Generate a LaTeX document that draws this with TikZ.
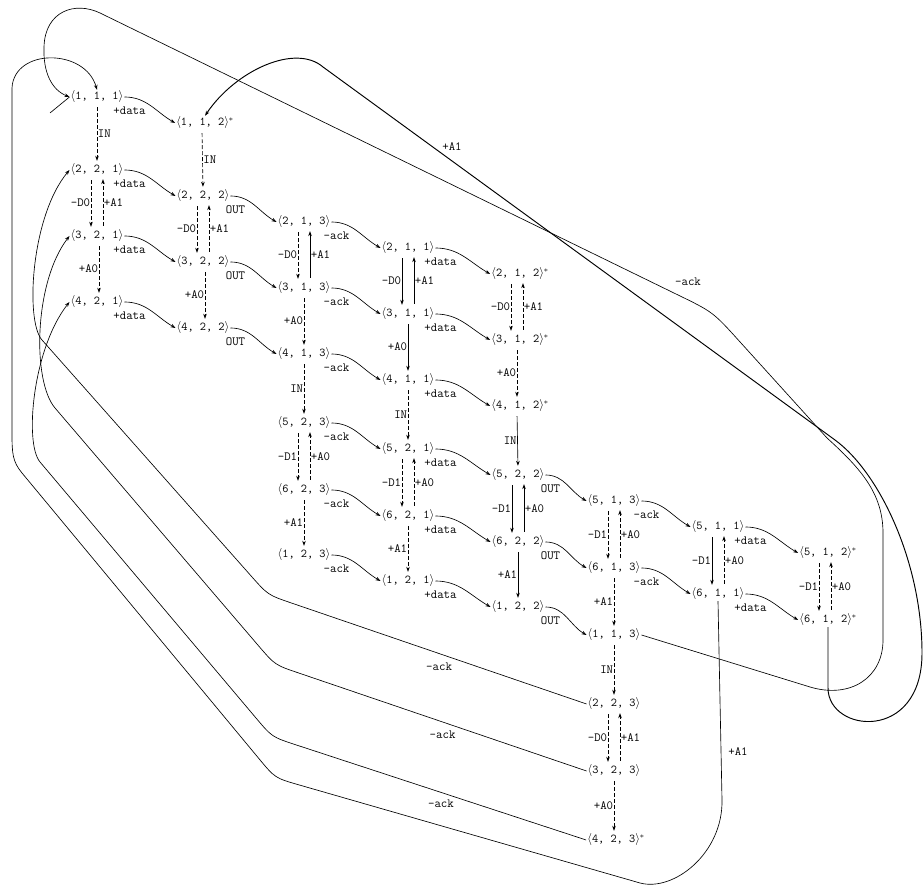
\documentclass[tikz,border=0pt]{standalone}
\usepackage{tikz}
\usetikzlibrary{arrows.meta}
\newcommand{\tup}[1]{$\langle$#1$\rangle$}

\begin{document}
\begin{tikzpicture}[x=1pt,y=1pt,>={Stealth[length=5pt,width=3.6pt]},
  st/.style={inner sep=1pt,font=\fontsize{12}{14}\selectfont\ttfamily},
  lbl/.style={inner sep=0.5pt,font=\fontsize{12.5}{14}\selectfont\ttfamily},
  hlbl/.style={lbl,at start,anchor=north,xshift=5pt,yshift=-9pt},
  hop/.style={->,line width=0.65pt},
  vmove/.style={->,line width=0.65pt,shorten <=3pt,shorten >=2pt},
  faint/.style={dash pattern=on 4pt off 2pt},
  loopline/.style={line width=0.65pt},
  heavy/.style={line width=0.95pt}]
  \useasboundingbox (0,0) rectangle (923,893);

  % --- states, one row of the staircase at a time ---
  \node[st] (n111) at (97,796) {\tup{1, 1, 1}};
  \node[st] (n112) at (205,770) {\tup{1, 1, 2}$^*$};

  \node[st] (n221) at (97,723) {\tup{2, 2, 1}};
  \node[st] (n222) at (203,697) {\tup{2, 2, 2}};
  \node[st] (n213) at (304,671) {\tup{2, 1, 3}};
  \node[st] (n211) at (408,645) {\tup{2, 1, 1}};
  \node[st] (n212) at (520,619) {\tup{2, 1, 2}$^*$};

  \node[st] (n321) at (97,657) {\tup{3, 2, 1}};
  \node[st] (n322) at (203,631) {\tup{3, 2, 2}};
  \node[st] (n313) at (304,605) {\tup{3, 1, 3}};
  \node[st] (n311) at (408,579) {\tup{3, 1, 1}};
  \node[st] (n312) at (520,553) {\tup{3, 1, 2}$^*$};

  \node[st] (n421) at (97,591) {\tup{4, 2, 1}};
  \node[st] (n422) at (203,565) {\tup{4, 2, 2}};
  \node[st] (n413) at (304,539) {\tup{4, 1, 3}};
  \node[st] (n411) at (408,513) {\tup{4, 1, 1}};
  \node[st] (n412) at (520,487) {\tup{4, 1, 2}$^*$};

  \node[st] (n523) at (304,470) {\tup{5, 2, 3}};
  \node[st] (n521) at (408,444) {\tup{5, 2, 1}};
  \node[st] (n522) at (518,418) {\tup{5, 2, 2}};
  \node[st] (n513) at (614,392) {\tup{5, 1, 3}};
  \node[st] (n511) at (718,366) {\tup{5, 1, 1}};
  \node[st] (n512) at (828,340) {\tup{5, 1, 2}$^*$};

  \node[st] (n623) at (304,403) {\tup{6, 2, 3}};
  \node[st] (n621) at (408,377) {\tup{6, 2, 1}};
  \node[st] (n622) at (518,351) {\tup{6, 2, 2}};
  \node[st] (n613) at (614,325) {\tup{6, 1, 3}};
  \node[st] (n611) at (718,299) {\tup{6, 1, 1}};
  \node[st] (n612) at (828,273) {\tup{6, 1, 2}$^*$};

  \node[st] (n123) at (304,338) {\tup{1, 2, 3}};
  \node[st] (n121) at (408,312) {\tup{1, 2, 1}};
  \node[st] (n122) at (518,286) {\tup{1, 2, 2}};
  \node[st] (n113) at (614,258) {\tup{1, 1, 3}};

  \node[st] (n223) at (614,189) {\tup{2, 2, 3}};
  \node[st] (n323) at (614,122) {\tup{3, 2, 3}};
  \node[st] (n423) at (616,53) {\tup{4, 2, 3}$^*$};

  % --- moves along a row ---
  \draw[hop] (n111.east) to[out=0,in=150] node[hlbl] {+data} (n112.west);

  \draw[hop] (n221.east) to[out=0,in=150] node[hlbl] {+data} (n222.west);
  \draw[hop] (n222.east) to[out=0,in=150] node[hlbl] {OUT} (n213.west);
  \draw[hop] (n213.east) to[out=0,in=150] node[hlbl] {-ack} (n211.west);
  \draw[hop] (n211.east) to[out=0,in=150] node[hlbl] {+data} (n212.west);

  \draw[hop] (n321.east) to[out=0,in=150] node[hlbl] {+data} (n322.west);
  \draw[hop] (n322.east) to[out=0,in=150] node[hlbl] {OUT} (n313.west);
  \draw[hop] (n313.east) to[out=0,in=150] node[hlbl] {-ack} (n311.west);
  \draw[hop] (n311.east) to[out=0,in=150] node[hlbl] {+data} (n312.west);

  \draw[hop] (n421.east) to[out=0,in=150] node[hlbl] {+data} (n422.west);
  \draw[hop] (n422.east) to[out=0,in=150] node[hlbl] {OUT} (n413.west);
  \draw[hop] (n413.east) to[out=0,in=150] node[hlbl] {-ack} (n411.west);
  \draw[hop] (n411.east) to[out=0,in=150] node[hlbl] {+data} (n412.west);

  \draw[hop] (n523.east) to[out=0,in=150] node[hlbl] {-ack} (n521.west);
  \draw[hop] (n521.east) to[out=0,in=150] node[hlbl] {+data} (n522.west);
  \draw[hop] (n522.east) to[out=0,in=150] node[hlbl] {OUT} (n513.west);
  \draw[hop] (n513.east) to[out=0,in=150] node[hlbl] {-ack} (n511.west);
  \draw[hop] (n511.east) to[out=0,in=150] node[hlbl] {+data} (n512.west);

  \draw[hop] (n623.east) to[out=0,in=150] node[hlbl] {-ack} (n621.west);
  \draw[hop] (n621.east) to[out=0,in=150] node[hlbl] {+data} (n622.west);
  \draw[hop] (n622.east) to[out=0,in=150] node[hlbl] {OUT} (n613.west);
  \draw[hop] (n613.east) to[out=0,in=150] node[hlbl] {-ack} (n611.west);
  \draw[hop] (n611.east) to[out=0,in=150] node[hlbl] {+data} (n612.west);

  \draw[hop] (n123.east) to[out=0,in=150] node[hlbl] {-ack} (n121.west);
  \draw[hop] (n121.east) to[out=0,in=150] node[hlbl] {+data} (n122.west);
  \draw[hop] (n122.east) to[out=0,in=150] node[hlbl] {OUT} (n113.west);

  % --- moves down a column ---
  % column 1
  \draw[vmove,faint] (n111) -- node[lbl,right] {IN} (n221);
  \draw[vmove,faint] ([xshift=-6pt]n221.south) -- node[lbl,left] {-D0} ([xshift=-6pt]n321.north);
  \draw[vmove,faint] ([xshift=6pt]n321.north) -- node[lbl,right] {+A1} ([xshift=6pt]n221.south);
  \draw[vmove,faint] ([xshift=2pt]n321.south) -- node[lbl,left] {+A0} ([xshift=2pt]n421.north);
  % column 2
  \draw[vmove,faint] ([xshift=-3pt]n112.south) -- node[lbl,right] {IN} (n222.north);
  \draw[vmove,faint] ([xshift=-6pt]n222.south) -- node[lbl,left] {-D0} ([xshift=-6pt]n322.north);
  \draw[vmove,faint] ([xshift=6pt]n322.north) -- node[lbl,right] {+A1} ([xshift=6pt]n222.south);
  \draw[vmove,faint] ([xshift=2pt]n322.south) -- node[lbl,left] {+A0} ([xshift=2pt]n422.north);
  % column 3
  \draw[vmove,faint] ([xshift=-6pt]n213.south) -- node[lbl,left] {-D0} ([xshift=-6pt]n313.north);
  \draw[vmove] ([xshift=6pt]n313.north) -- node[lbl,right] {+A1} ([xshift=6pt]n213.south);
  \draw[vmove,faint] (n313) -- node[lbl,left] {+A0} (n413);
  \draw[vmove,faint] (n413) -- node[lbl,left] {IN} (n523);
  \draw[vmove,faint] ([xshift=-6pt]n523.south) -- node[lbl,left] {-D1} ([xshift=-6pt]n623.north);
  \draw[vmove,faint] ([xshift=6pt]n623.north) -- node[lbl,right] {+A0} ([xshift=6pt]n523.south);
  \draw[vmove,faint] (n623) -- node[lbl,left] {+A1} (n123);
  % column 4
  \draw[vmove] ([xshift=-6pt]n211.south) -- node[lbl,left] {-D0} ([xshift=-6pt]n311.north);
  \draw[vmove] ([xshift=6pt]n311.north) -- node[lbl,right] {+A1} ([xshift=6pt]n211.south);
  \draw[vmove] (n311) -- node[lbl,left] {+A0} (n411);
  \draw[vmove,faint] (n411) -- node[lbl,left] {IN} (n521);
  \draw[vmove,faint] ([xshift=-6pt]n521.south) -- node[lbl,left] {-D1} ([xshift=-6pt]n621.north);
  \draw[vmove,faint] ([xshift=6pt]n621.north) -- node[lbl,right] {+A0} ([xshift=6pt]n521.south);
  \draw[vmove,faint] (n621) -- node[lbl,left] {+A1} (n121);
  % column 5
  \draw[vmove,faint] ([xshift=-9pt]n212.south) -- node[lbl,left] {-D0} ([xshift=-9pt]n312.north);
  \draw[vmove,faint] ([xshift=3pt]n312.north) -- node[lbl,right] {+A1} ([xshift=3pt]n212.south);
  \draw[vmove,faint] ([xshift=-3pt]n312.south) -- node[lbl,left] {+A0} ([xshift=-3pt]n412.north);
  \draw[vmove] ([xshift=-3pt]n412.south) -- node[lbl,left] {IN} (n522.north);
  \draw[vmove] ([xshift=-6pt]n522.south) -- node[lbl,left] {-D1} ([xshift=-6pt]n622.north);
  \draw[vmove] ([xshift=6pt]n622.north) -- node[lbl,right] {+A0} ([xshift=6pt]n522.south);
  \draw[vmove] (n622) -- node[lbl,left] {+A1} (n122);
  % column 6
  \draw[vmove,faint] ([xshift=-6pt]n513.south) -- node[lbl,left] {-D1} ([xshift=-6pt]n613.north);
  \draw[vmove,faint] ([xshift=6pt]n613.north) -- node[lbl,right] {+A0} ([xshift=6pt]n513.south);
  \draw[vmove,faint] (n613) -- node[lbl,left] {+A1} (n113);
  \draw[vmove,faint] (n113) -- node[lbl,left] {IN} (n223);
  \draw[vmove,faint] ([xshift=-6pt]n223.south) -- node[lbl,left] {-D0} ([xshift=-6pt]n323.north);
  \draw[vmove,faint] ([xshift=6pt]n323.north) -- node[lbl,right] {+A1} ([xshift=6pt]n223.south);
  \draw[vmove,faint] (n323) -- node[lbl,left] {+A0} ([xshift=-2pt]n423.north);
  % column 7
  \draw[vmove] ([xshift=-6pt]n511.south) -- node[lbl,left] {-D1} ([xshift=-6pt]n611.north);
  \draw[vmove,faint] ([xshift=6pt]n611.north) -- node[lbl,right] {+A0} ([xshift=6pt]n511.south);
  % column 8
  \draw[vmove,faint] ([xshift=-9pt]n512.south) -- node[lbl,left] {-D1} ([xshift=-9pt]n612.north);
  \draw[vmove,faint] ([xshift=3pt]n612.north) -- node[lbl,right] {+A0} ([xshift=3pt]n512.south);

  % --- long returns round the outside ---
  % each bend: in-point .. corner .. out-point
  \draw[loopline,->] (n223.west)
    -- node[lbl,below=8pt] {-ack} (291.7,289.9) .. controls (268,298) .. (251.4,316.7)
    -- (42,553) .. controls (25,572) and (31,677) .. (n221.west);
  \draw[loopline,->] (n323.west)
    -- node[lbl,below=8pt] {-ack} (298.7,220) .. controls (275,228) .. (258.7,247)
    -- (55,485) .. controls (32,512) and (34,611) .. (n321.west);
  \draw[loopline,->] (n423.west)
    -- node[lbl,below=7pt] {-ack} (295.8,148.2) .. controls (272,156) .. (255.9,175.1)
    -- (40,431) .. controls (24,450) and (33,545) .. (n421.west);

  % +A1 from <6,1,1> back to the start, outermost
  \draw[loopline,->] (n611.south) -- (722,93)
    .. controls (723,40) and (674,1) .. (640,10)
    -- (299,108.1) .. controls (275,115) .. (259,134.3)
    -- (22,420) .. controls (12.4,431.5) and (12,440) .. (12,460) -- (12,805)
    .. controls (14,845) and (85,845) .. (n111.north);
  \node[lbl] (lowA1) at (738,141) {+A1};

  % -ack from <1,1,3> over the top to the start
  \draw[loopline,->] (n113.east) -- (810,206)
    .. controls (850,194) and (883,215) .. (883,253) -- (883,360)
    .. controls (883,400) and (860,425) .. (827,455)
    -- (739.8,551.3) .. controls (713,581) .. (677,598.5)
    -- (100,880) .. controls (75,892) and (45,882) .. (44,846)
    .. controls (43,820) and (52,803) .. (n111.west);
  \node[lbl] (topack) at (688,611) {-ack};

  % +A1 from <6,1,2> over the top to <1,1,2>
  \draw[heavy,->] (n612.south) -- (828,205)
    .. controls (828,160) and (922,150) .. (922,240)
    .. controls (922,330) and (880,420) .. (835,453) -- (323,826)
    .. controls (295,850) and (235,822) .. (n112.north);
  \node[lbl] (topA1) at (452,746) {+A1};

  % initial stub
  \coordinate (init) at (50,780);
  \draw[loopline] (init) -- (n111.west);
\end{tikzpicture}
\end{document}
